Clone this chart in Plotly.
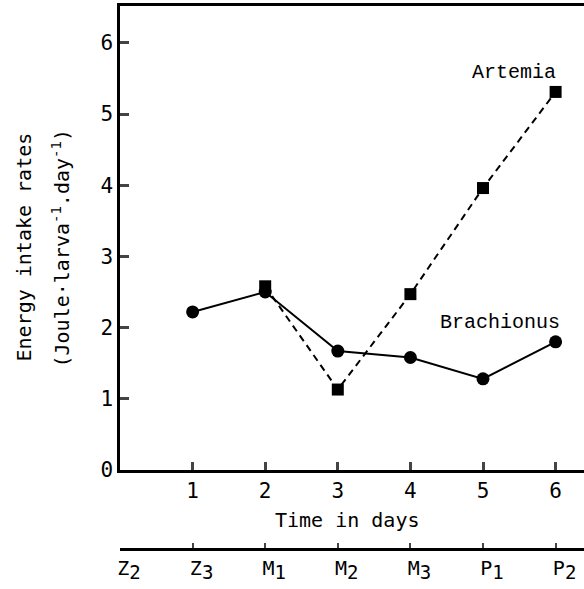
import plotly.graph_objects as go

days = [1, 2, 3, 4, 5, 6]
brachionus = [2.22, 2.50, 1.67, 1.58, 1.28, 1.80]
artemia_days = [2, 3, 4, 5, 6]
artemia = [2.58, 1.13, 2.47, 3.96, 5.31]
y_ticks = [0, 1, 2, 3, 4, 5, 6]
stage_pos = [0, 1, 2, 3, 4, 5, 6]
stage_main = ["Z", "Z", "M", "M", "M", "P", "P"]
stage_sub = ["2", "3", "1", "2", "3", "1", "2"]
stage_labels = [f"{m}<sub><span style='font-size:19px'>{s}</span></sub>"
                for m, s in zip(stage_main, stage_sub)]

AX_FONT = dict(family="DejaVu Sans Mono", size=21, color="black")
TXT_FONT = dict(family="DejaVu Sans Mono", size=20, color="black")
LBL_FONT = dict(family="Liberation Mono", size=20, color="black")

fig = go.Figure()
fig.add_trace(go.Scatter(x=artemia_days, y=artemia, mode="lines+markers",
                         line=dict(color="black", width=2, dash="7px,5px"),
                         marker=dict(symbol="square", size=12, color="black"),
                         showlegend=False))
fig.add_trace(go.Scatter(x=days, y=brachionus, mode="lines+markers",
                         line=dict(color="black", width=2),
                         marker=dict(symbol="circle", size=13, color="black"),
                         showlegend=False))
# invisible trace to activate second x-axis
fig.add_trace(go.Scatter(x=[None], y=[None], xaxis="x2", yaxis="y2", showlegend=False))

W, H = 584, 589
t, b, l, r = 6, 41, 120, 0
paper_h = H - t - b
main_bottom = (H - b - 470) / paper_h

fig.update_layout(
    width=W, height=H,
    margin=dict(l=l, r=r, t=t, b=b),
    plot_bgcolor="white", paper_bgcolor="white",
    xaxis=dict(range=[0, 464 / 72.6], tickvals=days, ticks="inside", ticklen=8,
               tickwidth=2.5, showline=True, linewidth=2.5, linecolor="black",
               mirror=True, showgrid=False, zeroline=False, tickfont=AX_FONT,
               anchor="y", ticklabelstandoff=0),
    yaxis=dict(domain=[main_bottom, 1], range=[0, 464 / 71.2], tickvals=y_ticks,
               ticks="inside", ticklen=9, tickwidth=2.5, showline=True,
               linewidth=2.5, linecolor="black", showgrid=False, zeroline=False,
               tickfont=AX_FONT, anchor="x"),
    xaxis2=dict(range=[0, 464 / 72.6], tickvals=stage_pos, ticktext=stage_labels,
                ticks="inside", ticklen=5, tickwidth=2, showline=True,
                linewidth=2.5, linecolor="black", showgrid=False, zeroline=False,
                tickfont=TXT_FONT, anchor="y2", ticklabelshift=9,
                ticklabelstandoff=0),
    yaxis2=dict(domain=[0, 0.001], visible=False, anchor="x2"),
    annotations=[
        dict(text="Artemia", x=6, y=5.31, xref="x", yref="y", showarrow=False,
             xanchor="center", yanchor="middle", xshift=-42, yshift=19,
             font=LBL_FONT),
        dict(text="Brachionus", x=6, y=1.80, xref="x", yref="y", showarrow=False,
             xanchor="center", yanchor="middle", xshift=-56, yshift=19,
             font=LBL_FONT),
        dict(text="Time in days", x=(347 - l) / 464, y=(H - b - 520) / paper_h,
             xref="paper", yref="paper", showarrow=False, xanchor="center",
             yanchor="middle", font=TXT_FONT),
        dict(text="Energy intake rates", x=0, y=(469.5 - 247) / 71.2, xref="paper",
             yref="y", showarrow=False, textangle=-90, xanchor="center",
             yanchor="middle", xshift=-97, font=TXT_FONT),
        dict(text="(Joule\u00b7larva<sup>-1</sup>.day<sup>-1</sup>)", x=0,
             y=(469.5 - 248) / 71.2, xref="paper", yref="y", showarrow=False,
             textangle=-90, xanchor="center", yanchor="middle", xshift=-60,
             font=TXT_FONT),
    ],
)

fig.write_html("out.html", config={"displayModeBar": False},
               post_script="document.body.style.margin='0';"
                           "document.body.style.overflow='hidden';")
